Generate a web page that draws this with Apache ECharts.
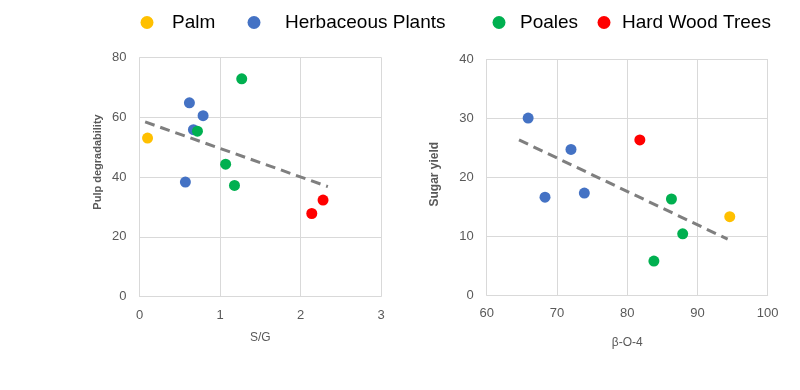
<!DOCTYPE html>
<html>
<head>
<meta charset="utf-8">
<script src="https://cdn.jsdelivr.net/npm/echarts@6/dist/echarts.min.js"></script>
<style>html,body{margin:0;padding:0;background:#fff}#c{width:800px;height:390px}</style>
</head>
<body>
<div id="c"></div>
<script>
// Left chart: S/G vs Pulp degradability
const sgPalm = [[0.10, 53.0]];
const sgHerb = [[0.62, 64.8], [0.79, 60.5], [0.67, 55.8], [0.57, 38.3]];
const sgPoales = [[0.72, 55.3], [1.27, 72.8], [1.07, 44.3], [1.18, 37.2]];
const sgHard = [[2.14, 27.8], [2.28, 32.3]];
const sgTrend = [[0.07, 58.4], [2.34, 36.8]];
// Right chart: β-O-4 vs Sugar yield
const boPalm = [[94.6, 13.3]];
const boHerb = [[65.9, 30.0], [72.0, 24.7], [68.3, 16.6], [73.9, 17.3]];
const boPoales = [[86.3, 16.3], [87.9, 10.4], [83.8, 5.8]];
const boHard = [[81.8, 26.3]];
const boTrend = [[64.6, 26.3], [94.3, 9.5]];

const names = ['Palm', 'Herbaceous Plants', 'Poales', 'Hard Wood Trees'];
const colors = ['#FFC000', '#4472C4', '#00B050', '#FF0000'];

const FONT = 'Liberation Sans, Arial, sans-serif';
const gridLine = {show: true, lineStyle: {color: '#d9d9d9', width: 1}};
const lbl = {color: '#595959', fontSize: 13, fontFamily: FONT};
const nameTxt = {color: '#595959', fontSize: 11, fontWeight: 'bold', fontFamily: FONT};

function scat(name, data, idx, color) {
  return {name, type: 'scatter', data, xAxisIndex: idx, yAxisIndex: idx,
    symbolSize: 11, itemStyle: {color, opacity: 1}, z: 3};
}
function trend(data, idx) {
  return {type: 'line', data, xAxisIndex: idx, yAxisIndex: idx, symbol: 'none',
    lineStyle: {color: '#7f7f7f', width: 3, type: [10, 6]}, z: 2, silent: true};
}

const legendLeft = [135.5, 242.5, 487.5, 592.5];
const legendPad = [13.5, 19.5, 9.5, 6.5];
const legends = names.map((n, i) => ({
  data: [n], left: legendLeft[i], top: 8, icon: 'circle', itemWidth: 13, itemHeight: 13,
  textStyle: {fontSize: 19, color: '#000', fontFamily: FONT, padding: [0, 0, 0, legendPad[i]]},
  selectedMode: false
}));

const chart = echarts.init(document.getElementById('c'));
chart.setOption({
  animation: false,
  color: colors,
  legend: legends,
  grid: [
    {left: 139.5, top: 57.3, width: 241.5, height: 239.4},
    {left: 486.7, top: 59, width: 281, height: 236.3}
  ],
  xAxis: [
    {gridIndex: 0, type: 'value', min: 0, max: 3, interval: 1, name: 'S/G', nameLocation: 'middle', nameGap: 35,
      nameTextStyle: Object.assign({}, nameTxt, {fontWeight: 'normal', fontSize: 12}),
      axisLine: {show: true, lineStyle: {color: '#d9d9d9'}}, axisTick: {show: false},
      axisLabel: Object.assign({margin: 12}, lbl), splitLine: gridLine},
    {gridIndex: 1, type: 'value', min: 60, max: 100, interval: 10, name: 'β-O-4', nameLocation: 'middle', nameGap: 41,
      nameTextStyle: Object.assign({}, nameTxt, {fontWeight: 'normal', fontSize: 12}),
      axisLine: {show: true, lineStyle: {color: '#d9d9d9'}}, axisTick: {show: false},
      axisLabel: Object.assign({margin: 12}, lbl), splitLine: gridLine}
  ],
  yAxis: [
    {gridIndex: 0, type: 'value', min: 0, max: 80, interval: 20, name: 'Pulp degradability', nameLocation: 'middle', nameGap: 36,
      nameTextStyle: Object.assign({}, nameTxt, {padding: [0, 0, 0, 30]}),
      axisLine: {show: false}, axisTick: {show: false},
      axisLabel: Object.assign({margin: 13}, lbl), splitLine: gridLine},
    {gridIndex: 1, type: 'value', min: 0, max: 40, interval: 10, name: 'Sugar yield', nameLocation: 'middle', nameGap: 46,
      nameTextStyle: Object.assign({}, nameTxt, {fontSize: 12, padding: [0, 0, 0, 6]}),
      axisLine: {show: false}, axisTick: {show: false},
      axisLabel: Object.assign({margin: 13}, lbl), splitLine: gridLine}
  ],
  series: [
    trend(sgTrend, 0), trend(boTrend, 1),
    scat(names[0], sgPalm, 0, colors[0]), scat(names[1], sgHerb, 0, colors[1]),
    scat(names[2], sgPoales, 0, colors[2]), scat(names[3], sgHard, 0, colors[3]),
    scat(names[0], boPalm, 1, colors[0]), scat(names[1], boHerb, 1, colors[1]),
    scat(names[2], boPoales, 1, colors[2]), scat(names[3], boHard, 1, colors[3])
  ]
});
</script>
</body>
</html>
